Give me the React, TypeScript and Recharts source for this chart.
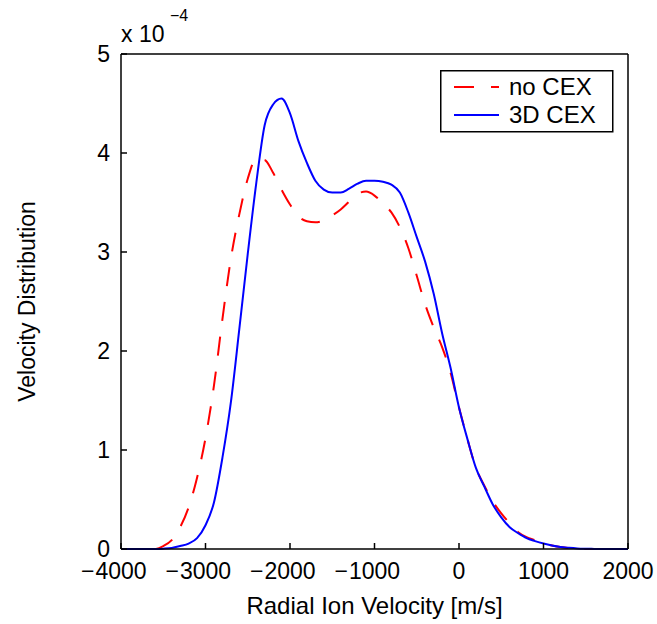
import { LineChart, Line, XAxis, YAxis, Legend } from "recharts";

// radial ion velocity [m/s]
const VELOCITY = [
  -4000, -3900, -3800, -3700, -3600, -3500, -3400, -3300, -3200, -3100,
  -3000, -2900, -2800, -2700, -2600, -2500, -2400, -2300, -2200, -2100,
  -2000, -1900, -1800, -1700, -1600, -1500, -1400, -1300, -1200, -1100,
  -1000, -900, -800, -700, -600, -500, -400, -300, -200, -100,
  0, 100, 200, 300, 400, 500, 600, 700, 800, 900,
  1000, 1100, 1200, 1300, 1400, 1500, 1600, 1700, 1800, 1900, 2000,
];

// velocity distribution, in units of 1e-4
const NO_CEX = [
  0, 0, 0, 0, 0, 0.03, 0.09, 0.22, 0.42, 0.72,
  1.12, 1.65, 2.32, 2.93, 3.38, 3.74, 3.94, 3.93, 3.80, 3.63,
  3.48, 3.36, 3.31, 3.30, 3.32, 3.37, 3.43, 3.51, 3.59, 3.61,
  3.57, 3.49, 3.40, 3.25, 3.04, 2.76, 2.47, 2.24, 2.04, 1.78,
  1.43, 1.11, 0.82, 0.64, 0.48, 0.36, 0.26, 0.17, 0.12, 0.09,
  0.06, 0.035, 0.02, 0.01, 0.005, 0, 0, 0, 0, 0, 0,
];

const CEX_3D = [
  0, 0, 0, 0, 0, 0.003, 0.01, 0.03, 0.055, 0.11,
  0.24, 0.47, 0.92, 1.48, 2.22, 2.98, 3.69, 4.28, 4.49, 4.55,
  4.40, 4.12, 3.90, 3.72, 3.63, 3.60, 3.60, 3.64, 3.69, 3.72,
  3.72, 3.71, 3.68, 3.60, 3.40, 3.15, 2.90, 2.58, 2.18, 1.83,
  1.43, 1.11, 0.82, 0.63, 0.45, 0.32, 0.22, 0.16, 0.11, 0.08,
  0.055, 0.035, 0.02, 0.012, 0.006, 0.003, 0.001, 0, 0, 0, 0,
];

const X_TICKS = [-4000, -3000, -2000, -1000, 0, 1000, 2000];
const Y_TICKS = [0, 1, 2, 3, 4, 5];

const data = VELOCITY.map((v, i) => ({ v, noCex: NO_CEX[i], cex3d: CEX_3D[i] }));

const FONT = '"Liberation Sans", Arial, Helvetica, sans-serif';
const FS = 23;
const TICK_STYLE = { fontSize: FS, fill: "#000", fontFamily: FONT };
const AXIS_LINE = { stroke: "#000", strokeWidth: 1.5 };
const RED = "#ff0000";
const BLUE = "#0000ff";
const DASH = "19 16";

// matlab-style: digits centred on the tick, minus sign hanging to the left
function XTick({ x, y, payload }: any) {
  const v = payload.value as number;
  const digits = String(Math.abs(v));
  const half = (digits.length * 0.556 * FS) / 2;
  const base = y + 16;
  return (
    <g fontFamily={FONT} fontSize={FS} fill="#000">
      <text x={x} y={base} textAnchor="middle">{digits}</text>
      {v < 0 && <text x={x - half - 1} y={base} textAnchor="end">{"\u2212"}</text>}
    </g>
  );
}

function LegendBox() {
  return (
    <svg width={174} height={63} style={{ display: "block" }}>
      <rect x={0.75} y={0.75} width={172} height={61} fill="#fff" stroke="#000" strokeWidth={1.5} />
      <line x1={14} x2={59} y1={17} y2={17} stroke={RED} strokeWidth={2} strokeDasharray="20 17" />
      <text x={69} y={25} fontSize={24} fontFamily={FONT} fill="#000">no CEX</text>
      <line x1={14} x2={59} y1={45} y2={45} stroke={BLUE} strokeWidth={2} />
      <text x={69} y={53} fontSize={24} fontFamily={FONT} fill="#000">3D CEX</text>
    </svg>
  );
}

export default function App() {
  return (
    <div style={{ position: "absolute", left: 0, top: 0, width: 657, height: 624, background: "#fff" }}>
      <LineChart width={657} height={624} data={data} margin={{ top: 24, right: 0, bottom: 0, left: 0 }}>
        <XAxis
          xAxisId="bottom"
          dataKey="v"
          type="number"
          domain={[-4000, 2000]}
          ticks={X_TICKS}
          height={75}
          tick={<XTick />}
          tickSize={-6}
          tickMargin={20}
          axisLine={AXIS_LINE}
          tickLine={AXIS_LINE}
          label={{
            content: ({ viewBox }: any) => (
              <text x={viewBox.x + viewBox.width / 2} y={614} textAnchor="middle" fontSize={24} fontFamily={FONT} fill="#000">
                Radial Ion Velocity [m/s]
              </text>
            ),
          }}
        />
        <XAxis
          xAxisId="top"
          orientation="top"
          dataKey="v"
          type="number"
          domain={[-4000, 2000]}
          ticks={X_TICKS}
          tick={false}
          tickSize={-6}
          axisLine={AXIS_LINE}
          tickLine={AXIS_LINE}
        />
        <YAxis
          yAxisId="left"
          type="number"
          domain={[0, 5]}
          ticks={Y_TICKS}
          width={121}
          tick={TICK_STYLE}
          tickSize={-6}
          tickMargin={17}
          axisLine={AXIS_LINE}
          tickLine={AXIS_LINE}
          label={{
            content: ({ viewBox }: any) => {
              const cx = 27;
              const cy = viewBox.y + viewBox.height / 2;
              return (
                <text x={cx} y={cy} transform={`rotate(-90 ${cx} ${cy})`} textAnchor="middle" dominantBaseline="central" fontSize={23} fontFamily={FONT} fill="#000">
                  Velocity Distribution
                </text>
              );
            },
          }}
        />
        <YAxis
          yAxisId="right"
          orientation="right"
          type="number"
          domain={[0, 5]}
          ticks={Y_TICKS}
          width={29}
          tick={false}
          tickSize={-6}
          axisLine={AXIS_LINE}
          tickLine={AXIS_LINE}
        />
        <Legend
          layout="vertical"
          align="center"
          verticalAlign="middle"
          wrapperStyle={{ left: 440, top: 70, width: 174, height: 63 }}
          content={() => <LegendBox />}
        />
        <Line
          xAxisId="bottom"
          yAxisId="left"
          dataKey="noCex"
          type="monotone"
          stroke={RED}
          strokeWidth={2}
          strokeDasharray={DASH}
          dot={false}
          isAnimationActive={false}
        />
        <Line
          xAxisId="bottom"
          yAxisId="left"
          dataKey="cex3d"
          type="monotone"
          stroke={BLUE}
          strokeWidth={2}
          dot={false}
          isAnimationActive={false}
        />
      </LineChart>
      <svg width={220} height={50} style={{ position: "absolute", left: 0, top: 0 }}>
        <text x={121} y={42} fontSize={23} fontFamily={FONT} fill="#000">x 10</text>
        <text x={170} y={21} fontSize={16} fontFamily={FONT} fill="#000">{"\u22124"}</text>
      </svg>
    </div>
  );
}
